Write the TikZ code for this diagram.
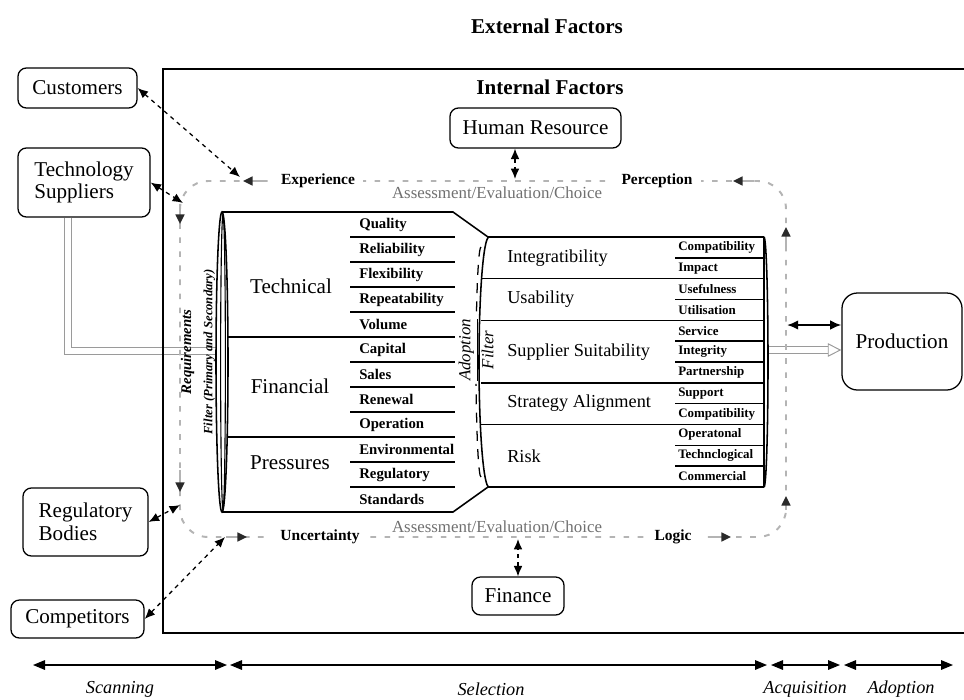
\documentclass[tikz,border=0pt]{standalone}
\usepackage{amsmath}
\usepackage{fontspec}
\setmainfont{Liberation Serif}
\usetikzlibrary{arrows.meta,calc}
\definecolor{cyclegray}{HTML}{B4B4B4}
\definecolor{assessgray}{HTML}{707070}
\definecolor{feedgray}{HTML}{9A9A9A}
\definecolor{tipgray}{HTML}{2A2A2A}
\tikzset{
  factor/.style={rectangle, rounded corners=6pt, draw, line width=0.9pt, align=left, inner sep=3pt, font=\fontsize{15}{16}\selectfont},
  heading/.style={font=\fontsize{15}{17}\selectfont\bfseries},
  groupname/.style={font=\fontsize{15}{17}\selectfont},
  criterion/.style={anchor=west, inner sep=0pt, font=\fontsize{13}{15}\selectfont},
  item/.style={anchor=west, inner sep=0pt, font=\fontsize{10.5}{12}\selectfont\bfseries},
  subitem/.style={anchor=west, inner sep=0pt, font=\fontsize{9.2}{11}\selectfont\bfseries},
  cue/.style={fill=white, inner xsep=6pt, inner ysep=2pt, font=\fontsize{11}{13}\selectfont\bfseries},
  assess/.style={text=assessgray, inner sep=0pt, font=\fontsize{12}{14}\selectfont},
  phase/.style={font=\fontsize{13}{15}\selectfont\itshape},
  link/.style={{Latex[length=2.6mm,width=2.2mm]}-{Latex[length=2.6mm,width=2.2mm]}, dashed, line width=0.9pt},
  duplex/.style={{Latex[length=2.8mm,width=2.4mm]}-{Latex[length=2.8mm,width=2.4mm]}, line width=1.4pt},
  cycleline/.style={draw=cyclegray, line width=1.4pt, dash pattern=on 4pt off 6pt},
  cyclearrow/.style={-{Triangle[length=2.4mm,width=2.2mm,color=tipgray]}, draw=cyclegray, line width=1.4pt},
  phasebar/.style={{Triangle[length=3mm,width=2.4mm]}-{Triangle[length=3mm,width=2.4mm]}, line width=0.9pt},
  outline/.style={line width=1.1pt},
  feed/.style={draw=feedgray, double=white, double distance=4pt, line width=0.7pt}
}

\begin{document}
\begin{tikzpicture}[x=0.025cm, y=-0.025cm]
  \useasboundingbox (0,0) rectangle (964,699);

  \node[heading] (ext) at (547,26) {External Factors};

  % stakeholders outside
  \node[factor, minimum width=2.975cm, minimum height=1.0cm] (cust) at (77.5,88) {Customers};
  \node[factor, minimum width=3.3cm, minimum height=1.725cm] (tech) at (84,182.5) {Technology\\Suppliers};
  \node[factor, minimum width=3.125cm, minimum height=1.7cm] (reg) at (85.5,522) {Regulatory\\Bodies};
  \node[factor, minimum width=3.325cm, minimum height=0.95cm] (comp) at (77.5,619) {Competitors};
  \node[factor, rounded corners=11pt, minimum width=3.0cm, minimum height=2.425cm] (prod) at (902,341.5) {Production};

  % technology feed through the filters
  \draw[feed] ($(tech.south west)!0.38!(tech.south east)$) |- (217,351);
  \coordinate (feedout) at (769,350);
  \draw[feed, -{Triangle[open,length=3.4mm,width=3.4mm]}] (feedout) -- (feedout -| prod.west);

  % internal factors frame
  \draw[outline] (966,69) -| (163,633) -- (966,633);
  \node[heading] (int) at (550,87) {Internal Factors};
  \node[factor, minimum width=4.275cm, minimum height=1.0cm] (hr) at (535.5,128) {Human Resource};
  \node[factor, minimum width=2.3cm, minimum height=0.95cm] (fin) at (518,596) {Finance};

  % assessment cycle
  \draw[cycleline, rounded corners=20pt] (180,181) rectangle (786,537);
  \node[cue] (exp) at (318,181) {Experience};
  \node[cue] (perc) at (657,181) {Perception};
  \node[cue] (unc) at (320,537) {Uncertainty};
  \node[cue] (logic) at (673,537) {Logic};
  \node[assess] (asstop) at (497,193) {Assessment/Evaluation/Choice};
  \node[assess] (assbot) at (497,527) {Assessment/Evaluation/Choice};
  \draw[cyclearrow] (262,181) -- (243,181);
  \draw[cyclearrow] (754,181) -- (733,181);
  \draw[cyclearrow] (180,204) -- (180,224);
  \draw[cyclearrow] (180,470) -- (180,492);
  \draw[cyclearrow] (226,537) -- (247,537);
  \draw[cyclearrow] (710,537) -- (731,537);
  \draw[cyclearrow] (786,250) -- (786,227);
  \draw[cyclearrow] (786,510) -- (786,496);

  % requirements filter
  \draw[outline] (222,212) -- (453,212) -- (488,237) -- (764,237);
  \draw[outline] (222,512) -- (453,512) -- (488,487) -- (764,487);
  \draw[outline, fill=white] (222,362) ellipse [x radius=0.15cm, y radius=3.75cm];
  \draw[line width=0.8pt] (223,362) ellipse [x radius=0.06cm, y radius=3.68cm];
  \foreach \y in {337,437} \draw[outline] (227,\y) -- (455,\y);
  \foreach \y in {237,262,287,312,362,387,412,462,487} \draw[outline] (350,\y) -- (455,\y);
  \node[groupname] (techn) at (291,286) {Technical};
  \node[groupname] (finan) at (290,386) {Financial};
  \node[groupname] (press) at (290,463) {Pressures};
  \foreach \lbl [count=\i from 0] in {Quality,Reliability,Flexibility,Repeatability,Volume,Capital,Sales,Renewal,Operation,Environmental,Regulatory,Standards}
    \node[item] (req\i) at (359,{224.5+25*\i}) {\lbl};
  \node[rotate=90, align=center, inner sep=0pt, font=\bfseries\itshape] (reqf) at (198,352)
    {{\fontsize{10.5}{12}\selectfont Requirements}\\[3pt]{\fontsize{9}{11}\selectfont Filter (Primary and Secondary)}};

  % adoption filter
  \draw[outline] (489,237) arc[start angle=90, end angle=270, x radius=0.25cm, y radius=3.125cm];
  \draw[line width=0.9pt, dash pattern=on 7pt off 6pt] (481,247) arc[start angle=90, end angle=156, x radius=0.125cm, y radius=2.875cm];
  \draw[line width=0.9pt, dash pattern=on 7pt off 6pt] (481,477) arc[start angle=270, end angle=191, x radius=0.125cm, y radius=2.875cm];
  \node[rotate=90, inner sep=0pt, font=\fontsize{12}{13}\selectfont] (adf) at (476,350) {$\dfrac{\textit{Adoption}}{\textit{Filter}}$};
  \draw[outline] (764,237) -- (764,487);
  \draw[outline] (764,237) arc[start angle=90, end angle=-90, x radius=0.1cm, y radius=3.125cm];
  \foreach \y in {278.7,320.3,382.8,424.5} \draw[outline] (481,\y) -- (764,\y);
  \foreach \y in {257.8,299.5,341.2,362,403.6,445.3,466.2} \draw[outline] (675,\y) -- (764,\y);
  \node[criterion] (integ) at (507,257.8) {Integratibility};
  \node[criterion] (usab) at (507,299.5) {Usability};
  \node[criterion] (suppl) at (507,351.7) {Supplier Suitability};
  \node[criterion] (strat) at (507,403.6) {Strategy Alignment};
  \node[criterion] (risk) at (507,455.9) {Risk};
  \foreach \lbl [count=\i from 0] in {Compatibility,Impact,Usefulness,Utilisation,Service,Integrity,Partnership,Support,Compatibility,Operatonal,Technclogical,Commercial}
    \node[subitem] (adp\i) at (678,{247.4+20.83*\i}) {\lbl};

  % links to the cycle
  \coordinate (custin) at (240,177);
  \coordinate (techin) at (183,203);
  \coordinate (regin) at (180,505);
  \coordinate (compin) at (225,537);
  \coordinate (hrin) at (515,179);
  \coordinate (finin) at (518,539);
  \coordinate (prodin) at (787,325);
  \draw[link] (cust.east) -- (custin);
  \draw[link] (tech.east) -- (techin);
  \draw[link] (reg.east) -- (regin);
  \draw[link] (comp.east) -- (compin);
  \draw[link] (hr.south -| hrin) -- (hrin);
  \draw[link] (fin.north -| finin) -- (finin);
  \draw[duplex] (prodin) -- (prodin -| prod.west);

  % phases
  \coordinate (p0) at (33,665);
  \coordinate (p1a) at (227,665);
  \coordinate (p1b) at (230,665);
  \coordinate (p2a) at (767,665);
  \coordinate (p2b) at (771,665);
  \coordinate (p3a) at (840,665);
  \coordinate (p3b) at (844,665);
  \coordinate (p4) at (953,665);
  \draw[phasebar] (p0) -- (p1a);
  \draw[phasebar] (p1b) -- (p2a);
  \draw[phasebar] (p2b) -- (p3a);
  \draw[phasebar] (p3b) -- (p4);
  \node[phase] (scan) at (120,689) {Scanning};
  \node[phase] (sel) at (491,689) {Selection};
  \node[phase] (acq) at (805,689) {Acquisition};
  \node[phase] (adopt) at (901,689) {Adoption};
\end{tikzpicture}
\end{document}
